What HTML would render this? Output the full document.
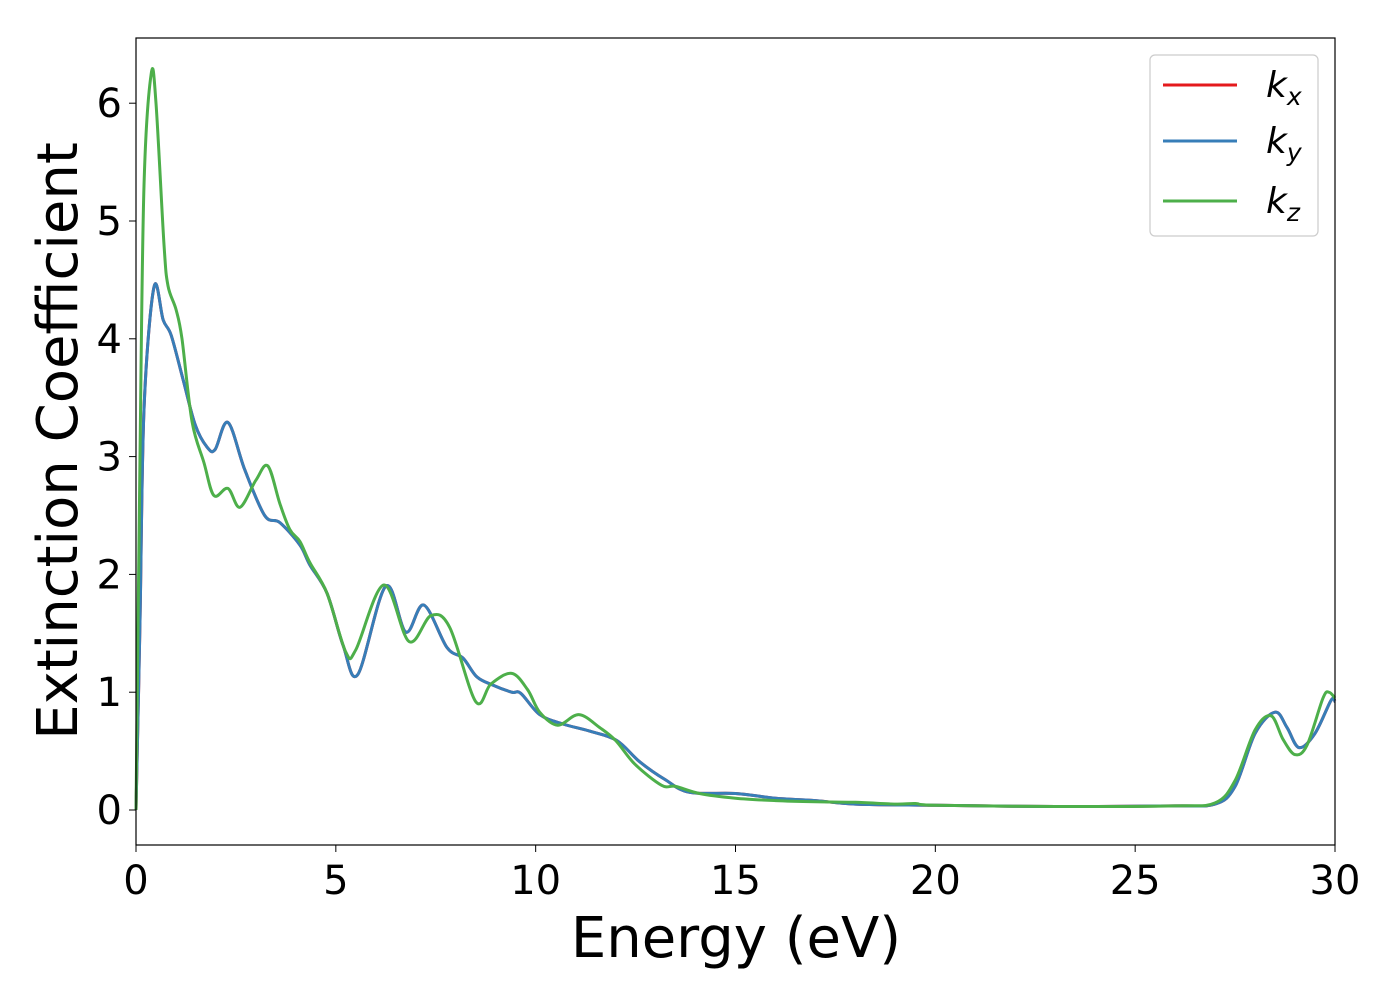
<!DOCTYPE html>
<html><head><meta charset="utf-8"><style>
body{margin:0;background:#fff;}
svg{display:block;font-family:"DejaVu Sans","Liberation Sans",sans-serif;}
</style></head><body>
<svg id="chart" width="1400" height="1000">
<rect x="0" y="0" width="1400" height="1000" fill="#fff"/>
<g id="plot"></g>
<rect x="136" y="38" width="1199" height="807" fill="none" stroke="#000" stroke-width="1.2"/>
<g id="xticks"></g>
<g id="yticks"></g>
<text x="736" y="957" font-size="56" text-anchor="middle">Energy (eV)</text>
<text transform="translate(77,441) rotate(-90)" font-size="56" text-anchor="middle">Extinction Coefficient</text>
<g>
<rect x="1150" y="55" width="168" height="181" rx="5" fill="#fff" fill-opacity="0.8" stroke="#ccc" stroke-width="1.2"/>
<g><line x1="1163" y1="85" x2="1237" y2="85" stroke="#e41a1c" stroke-width="3"/><text x="1266" y="97" font-size="36" font-style="italic">k<tspan font-size="25" dy="8">x</tspan></text></g>
<g><line x1="1163" y1="141" x2="1237" y2="141" stroke="#377eb8" stroke-width="3"/><text x="1266" y="153" font-size="36" font-style="italic">k<tspan font-size="25" dy="8">y</tspan></text></g>
<g><line x1="1163" y1="201" x2="1237" y2="201" stroke="#4daf4a" stroke-width="3"/><text x="1266" y="213" font-size="36" font-style="italic">k<tspan font-size="25" dy="8">z</tspan></text></g>
</g>
</svg>
<script>
const xTicks=[0,5,10,15,20,25,30];
const yTicks=[0,1,2,3,4,5,6];
const energyXY=[0,0.1,0.2,0.45,0.68,0.88,1.18,1.48,1.78,1.98,2.3,2.72,3.22,3.6,4.1,4.35,4.78,5.18,5.55,6.25,6.75,7.2,7.78,8.18,8.53,8.93,9.4,9.63,10.1,10.68,11.35,12.03,12.6,13.23,13.85,15,16,17,18,20,23,26,27,27.5,28,28.5,28.8,29.1,29.5,29.9,30];
const kxy=[0,1.6,3.4,4.44,4.16,4.03,3.65,3.27,3.08,3.06,3.29,2.89,2.50,2.44,2.25,2.08,1.84,1.40,1.15,1.90,1.51,1.74,1.38,1.29,1.13,1.06,1.00,0.99,0.81,0.73,0.67,0.59,0.41,0.26,0.15,0.14,0.10,0.08,0.05,0.04,0.03,0.035,0.05,0.2,0.65,0.83,0.7,0.53,0.65,0.93,0.92];
const energyZ=[0,0.1,0.2,0.38,0.5,0.7,0.8,1.0,1.15,1.4,1.7,1.95,2.3,2.6,3.0,3.3,3.6,3.85,4.1,4.35,4.78,5.25,5.5,6.2,6.83,7.38,7.85,8.5,8.88,9.4,9.8,10.1,10.55,11.08,11.6,12.0,12.48,13.15,13.5,14.1,15,16,17,18,19,19.5,20,23,26,27,27.5,28,28.4,28.7,29,29.3,29.7,29.85,30];
const kz=[0,3.0,5.3,6.25,6.0,4.8,4.45,4.25,4.0,3.3,2.95,2.67,2.73,2.57,2.80,2.92,2.6,2.38,2.28,2.1,1.84,1.34,1.36,1.91,1.43,1.65,1.55,0.92,1.07,1.16,1.02,0.83,0.72,0.81,0.70,0.59,0.39,0.21,0.20,0.14,0.10,0.08,0.07,0.065,0.05,0.055,0.04,0.03,0.035,0.06,0.25,0.68,0.80,0.6,0.47,0.55,0.95,1.0,0.95];
const NS='http://www.w3.org/2000/svg';
const X=v=>136+v*(1199/30);
const Y=v=>810-v*117.8;
function path(xs,ys){
  const p=xs.map((x,i)=>[X(x),Y(ys[i])]);
  let d='M'+p[0][0]+','+p[0][1];
  for(let i=0;i<p.length-1;i++){
    const p0=p[Math.max(0,i-1)],p1=p[i],p2=p[i+1],p3=p[Math.min(p.length-1,i+2)];
    const c1=[p1[0]+(p2[0]-p0[0])/6,p1[1]+(p2[1]-p0[1])/6];
    const c2=[p2[0]-(p3[0]-p1[0])/6,p2[1]-(p3[1]-p1[1])/6];
    d+=' C'+c1[0].toFixed(1)+','+c1[1].toFixed(1)+' '+c2[0].toFixed(1)+','+c2[1].toFixed(1)+' '+p2[0].toFixed(1)+','+p2[1].toFixed(1);
  }
  return d;
}
const plot=document.getElementById('plot');
function addLine(xs,ys,color,name){
  const el=document.createElementNS(NS,'path');
  el.setAttribute('d',path(xs,ys));
  el.setAttribute('fill','none');
  el.setAttribute('stroke',color);
  el.setAttribute('stroke-width','3');
  
  
  plot.appendChild(el);
}
addLine(energyXY,kxy,'#e41a1c','series-kx');
addLine(energyXY,kxy,'#377eb8','series-ky');
addLine(energyZ,kz,'#4daf4a','series-kz');
const xg=document.getElementById('xticks');
xTicks.forEach(t=>{
  const l=document.createElementNS(NS,'line');
  l.setAttribute('x1',X(t));l.setAttribute('x2',X(t));l.setAttribute('y1',845);l.setAttribute('y2',852);
  l.setAttribute('stroke','#000');
  
  
  xg.appendChild(l);
  const tx=document.createElementNS(NS,'text');
  tx.setAttribute('x',X(t));tx.setAttribute('y',894);tx.setAttribute('font-size','40');tx.setAttribute('text-anchor','middle');
  tx.textContent=t;
  
  
  xg.appendChild(tx);
});
const yg=document.getElementById('yticks');
yTicks.forEach(t=>{
  const l=document.createElementNS(NS,'line');
  l.setAttribute('x1',129);l.setAttribute('x2',136);l.setAttribute('y1',Y(t));l.setAttribute('y2',Y(t));
  l.setAttribute('stroke','#000');
  
  
  yg.appendChild(l);
  const tx=document.createElementNS(NS,'text');
  tx.setAttribute('x',122);tx.setAttribute('y',Y(t)+14);tx.setAttribute('font-size','40');tx.setAttribute('text-anchor','end');
  tx.textContent=t;
  
  
  yg.appendChild(tx);
});
</script>
</body></html>
